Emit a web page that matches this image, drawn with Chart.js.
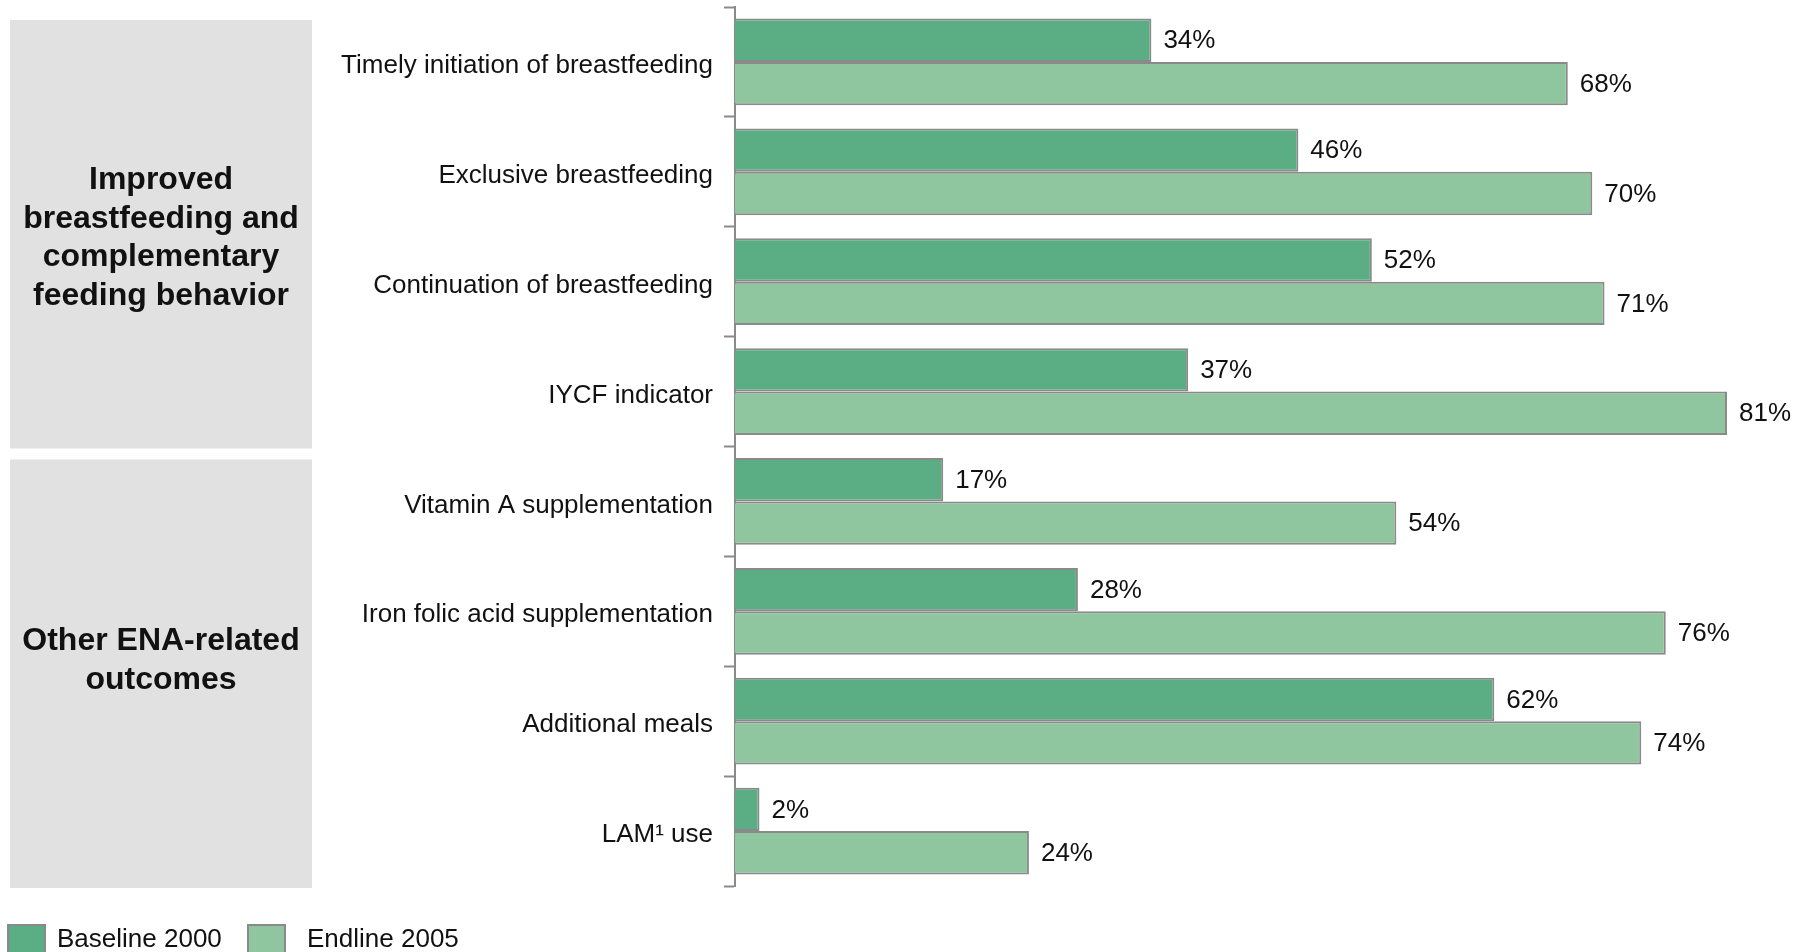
<!DOCTYPE html>
<html>
<head>
<meta charset="utf-8">
<title>ENA outcomes</title>
<script src="https://cdn.jsdelivr.net/npm/chart.js@4/dist/chart.umd.min.js"></script>
<style>
  html, body { margin: 0; padding: 0; background: #fff; overflow: hidden; }
  #wrap { width: 1800px; height: 952px; position: relative; }
</style>
</head>
<body>
<div id="wrap"><canvas id="outcomes"></canvas></div>
<script>
const categories = [
    'Timely initiation of breastfeeding',
    'Exclusive breastfeeding',
    'Continuation of breastfeeding',
    'IYCF indicator',
    'Vitamin A supplementation',
    'Iron folic acid supplementation',
    'Additional meals',
    'LAM\u00b9 use'
];
const baseline2000 = [34, 46, 52, 37, 17, 28, 62, 2];
const endline2005 = [68, 70, 71, 81, 54, 76, 74, 24];
const seriesNames = ['Baseline 2000', 'Endline 2005'];

const groupLabels = [
    ['Improved', 'breastfeeding and', 'complementary', 'feeding behavior'],
    ['Other ENA-related', 'outcomes']
];
const groupSizes = [4, 4];

const DARK = '#5bae84';
const LIGHT = '#8fc69f';
const EDGE = '#8a8a8a';
const INK = '#111111';
const FONT = '"Liberation Sans", Arial, sans-serif';

// grey boxes on the left holding the group titles
const groupBoxes = {
    id: 'groupBoxes',
    beforeDraw(chart) {
        const ctx = chart.ctx;
        const y = chart.scales.y;
        const step = (y.bottom - y.top) / categories.length;
        let start = 0;
        ctx.save();
        groupSizes.forEach((n, i) => {
            const top = y.top + start * step + 13;
            const bottom = y.top + (start + n) * step + 2;
            ctx.fillStyle = '#e1e1e1';
            ctx.fillRect(10, top, 302, bottom - top);

            const lines = groupLabels[i];
            const lh = 38.5;
            const shift = i === 1 ? -13 : 4;
            const mid = (top + bottom) / 2 + shift;
            ctx.fillStyle = INK;
            ctx.font = 'bold 32px ' + FONT;
            ctx.textAlign = 'center';
            ctx.textBaseline = 'middle';
            lines.forEach((t, k) => {
                ctx.fillText(t, 161, mid + (k - (lines.length - 1) / 2) * lh);
            });
            start += n;
        });
        ctx.restore();
    }
};

// percentage text to the right of each bar
const valueLabels = {
    id: 'valueLabels',
    afterDatasetsDraw(chart) {
        const ctx = chart.ctx;
        ctx.save();
        ctx.font = '26px ' + FONT;
        ctx.fillStyle = INK;
        ctx.textAlign = 'left';
        ctx.textBaseline = 'middle';
        chart.data.datasets.forEach((ds, di) => {
            chart.getDatasetMeta(di).data.forEach((bar, i) => {
                ctx.fillText(ds.data[i] + '%', bar.x + 12, bar.y + 1);
            });
        });
        ctx.restore();
    }
};

// legend along the bottom edge
const bottomLegend = {
    id: 'bottomLegend',
    afterDraw(chart) {
        const ctx = chart.ctx;
        const boxX = [7, 247];
        const textX = [57, 307];
        ctx.save();
        ctx.font = '26px ' + FONT;
        ctx.textBaseline = 'middle';
        ctx.textAlign = 'left';
        chart.data.datasets.forEach((ds, i) => {
            const x = boxX[i];
            ctx.fillStyle = ds.backgroundColor;
            ctx.fillRect(x, 924, 39, 32);
            ctx.strokeStyle = EDGE;
            ctx.lineWidth = 2;
            ctx.strokeRect(x + 1, 925, 37, 32);
            ctx.fillStyle = INK;
            ctx.fillText(ds.label, textX[i], 940);
        });
        ctx.restore();
    }
};

new Chart(document.getElementById('outcomes'), {
    type: 'bar',
    data: {
        labels: categories,
        datasets: [{
            label: seriesNames[0],
            data: baseline2000,
            backgroundColor: DARK,
            borderColor: EDGE,
            borderWidth: 2,
            borderSkipped: 'left'
        }, {
            label: seriesNames[1],
            data: endline2005,
            backgroundColor: LIGHT,
            borderColor: EDGE,
            borderWidth: 2,
            borderSkipped: 'left'
        }]
    },
    options: {
        indexAxis: 'y',
        responsive: true,
        maintainAspectRatio: false,
        animation: false,
        categoryPercentage: 0.79,
        barPercentage: 1.0,
        layout: { padding: { top: 7, right: 24, bottom: 66, left: 0 } },
        scales: {
            x: {
                display: false,
                min: 0,
                max: 85
            },
            y: {
                afterFit(scale) {
                    scale.width = 735;
                    scale.paddingTop = 0;
                    scale.paddingBottom = 0;
                },
                grid: {
                    drawOnChartArea: false,
                    drawTicks: true,
                    tickLength: 11,
                    tickWidth: 2,
                    color: EDGE
                },
                border: { display: true, color: EDGE, width: 2 },
                ticks: {
                    padding: 11,
                    labelOffset: 4,
                    color: INK,
                    font: { family: FONT, size: 26 }
                }
            }
        },
        plugins: {
            legend: { display: false },
            tooltip: { enabled: false }
        }
    },
    plugins: [groupBoxes, valueLabels, bottomLegend]
});
</script>
</body>
</html>
